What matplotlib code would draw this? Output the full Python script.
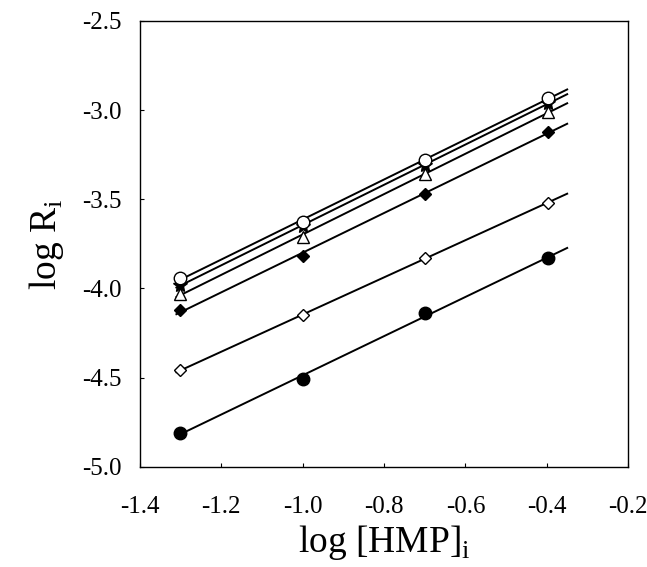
import matplotlib
matplotlib.use("Agg")
import matplotlib.pyplot as plt
import numpy as np

plt.rcParams["font.family"] = ["Liberation Serif", "DejaVu Serif"]

log_hmp = [-1.301, -1.0, -0.699, -0.398]

filled_circle = [-4.81, -4.51, -4.14, -3.83]
open_diamond = [-4.46, -4.15, -3.83, -3.52]
filled_diamond = [-4.12, -3.82, -3.47, -3.12]
open_triangle = [-4.03, -3.71, -3.36, -3.01]
filled_star = [-3.98, -3.65, -3.31, -2.96]
open_circle = [-3.94, -3.63, -3.28, -2.93]

series = [
    (filled_circle, "o", "black", 9),
    (open_diamond, "D", "white", 6),
    (filled_diamond, "D", "black", 6),
    (open_triangle, "^", "white", 8),
    (filled_star, "*", "black", 11),
    (open_circle, "o", "white", 9),
]

fig = plt.figure(figsize=(6.47, 5.67), dpi=100)
ax = fig.add_axes([0.216, 0.177, 0.755, 0.786])

x = np.array(log_hmp)
xfit = np.array([-1.31, -0.35])
for vals, mk, fc, ms in series:
    slope, icpt = np.polyfit(x, np.array(vals), 1)
    ax.plot(xfit, slope * xfit + icpt, "-", color="black", linewidth=1.4, zorder=2)
    ax.plot(x, vals, mk, markerfacecolor=fc, markeredgecolor="black",
            markersize=ms, markeredgewidth=1.0, linestyle="none", zorder=3)

xt = np.arange(-1.4, -0.19, 0.2)
yt = np.arange(-5.0, -2.49, 0.5)
ax.set_xlim(-1.4, -0.2)
ax.set_ylim(-5.0, -2.5)
ax.set_xticks(xt)
ax.set_yticks(yt)
ax.set_xticklabels([f"{v:.1f}" for v in xt])
ax.set_yticklabels([f"{v:.1f}" for v in yt])
ax.tick_params(direction="in", length=3, labelsize=18)
ax.tick_params(axis="x", pad=21)
ax.tick_params(axis="y", pad=13)
for s in ax.spines.values():
    s.set_linewidth(1.0)

ax.set_xlabel(r"log [HMP]$_\mathregular{i}$", fontsize=27, labelpad=4)
ax.set_ylabel(r"log R$_\mathregular{i}$", fontsize=27, labelpad=12)

fig.savefig("out.png", dpi=100)
